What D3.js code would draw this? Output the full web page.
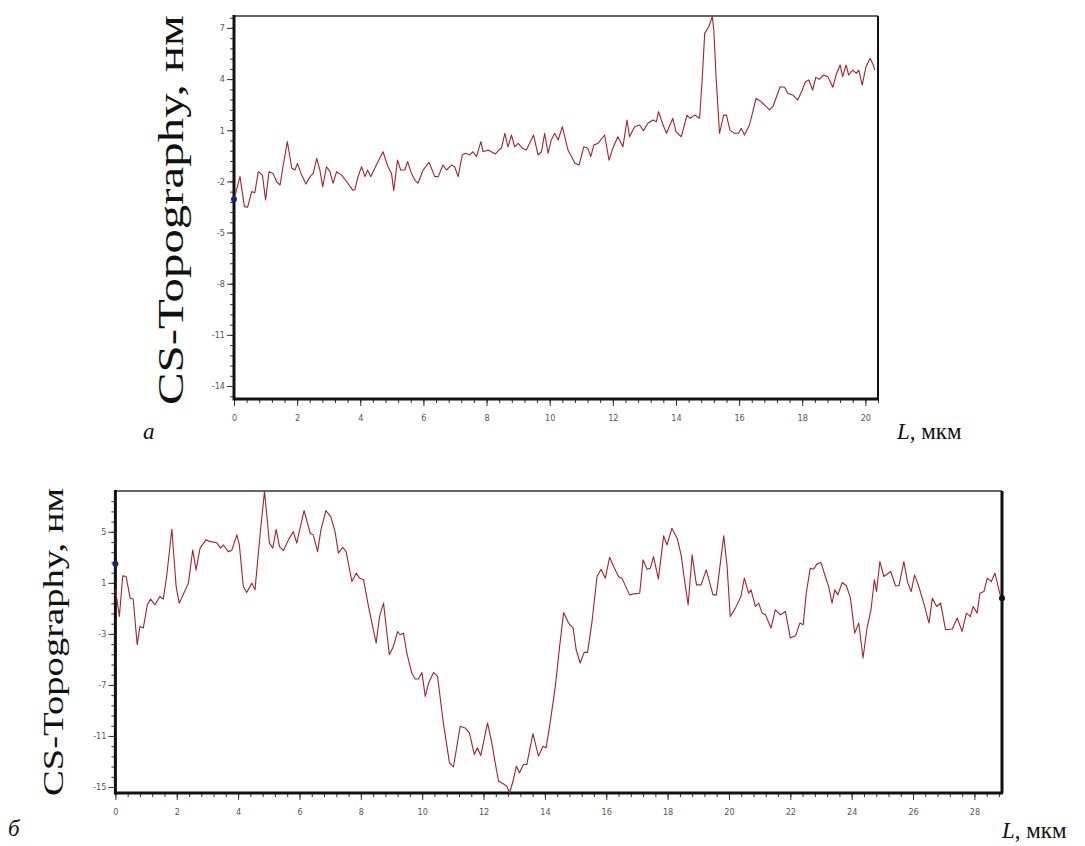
<!DOCTYPE html>
<html>
<head>
<meta charset="utf-8">
<script src="https://cdn.jsdelivr.net/npm/d3@7"></script>
<style>
  body { margin: 0; background: #fff; }
  svg { display: block; }
  .tick text { font-family: "DejaVu Sans Condensed", "DejaVu Sans", sans-serif; font-size: 9px; fill: #555; }
</style>
</head>
<body>
<div id="chart"></div>
<script>
// ---- panel a: profile along L (мкм), height (нм)
const lenA = [0,0.19,0.33,0.43,0.56,0.66,0.77,0.9,1.0,1.11,1.24,1.35,1.46,1.56,1.69,1.83,1.93,2.01,2.12,2.28,
  2.41,2.51,2.62,2.72,2.81,2.93,3.04,3.14,3.25,3.41,3.57,3.76,3.83,3.93,4.04,4.15,4.23,4.33,4.51,4.72,
  4.88,4.99,5.06,5.18,5.28,5.41,5.5,5.62,5.73,5.83,5.99,6.18,6.36,6.47,6.62,6.73,6.89,6.99,7.1,7.23,
  7.33,7.47,7.57,7.68,7.82,7.89,8.05,8.15,8.28,8.39,8.47,8.58,8.68,8.79,8.89,9.0,9.14,
  9.26,9.49,9.63,9.74,9.84,9.95,10.05,10.16,10.27,10.4,10.58,10.8,10.93,11.08,11.21,11.3,11.4,11.53,11.74,11.88,
  12.0,12.16,12.32,12.45,12.53,12.69,12.85,12.97,13.11,13.27,13.38,13.45,13.57,13.7,13.9,14.0,14.17,14.35,14.45,14.59,
  14.75,14.83,14.91,15.04,15.15,15.2,15.27,15.38,15.51,15.6,15.71,15.85,15.98,16.07,16.17,16.33,16.54,16.7,16.86,16.96,
  17.07,17.3,17.44,17.54,17.7,17.86,18.0,18.1,18.21,
  18.33,18.43,18.54,18.67,18.81,18.97,19.07,19.2,19.28,19.39,19.47,19.6,19.71,19.79,19.9,20.02,20.15,20.25,20.3];
const topoA = [-3.05,-1.72,-3.48,-3.52,-2.6,-2.66,-1.43,-1.63,-3.09,-1.43,-1.53,-2.02,-2.21,-1.04,0.33,-1.23,-1.33,-0.94,-1.53,-2.15,
  -1.72,-1.53,-0.65,-1.33,-2.31,-1.14,-1.43,-2.11,-1.43,-1.63,-2.02,-2.51,-2.47,-1.72,-1.14,-1.72,-1.33,-1.72,-1.04,-0.26,
  -1.14,-1.53,-2.55,-0.75,-1.33,-1.33,-0.84,-1.53,-1.92,-2.11,-1.33,-0.88,-1.72,-1.72,-1.04,-1.33,-1.04,-1.14,-1.72,-0.45,
  -0.35,-0.45,-0.26,-0.55,0.33,-0.26,-0.16,-0.26,-0.39,-0.16,-0.06,0.82,0.03,0.72,0.03,0.23,-0.06,
  -0.16,0.72,-0.45,-0.26,0.82,-0.35,0.43,0.82,0.43,1.21,-0.16,-0.94,-1.04,0.03,-0.06,-0.55,0.13,0.23,0.72,-0.75,
  -0.06,0.62,0.03,1.6,0.62,1.21,1.31,0.97,1.41,1.6,1.5,2.09,1.41,0.82,1.7,0.92,0.62,1.89,1.7,1.89,
  1.7,3.95,6.68,7.07,7.66,6.88,4.14,0.82,1.89,1.89,1.01,0.82,0.82,1.11,0.72,1.31,2.87,2.67,2.38,2.19,
  2.38,3.55,3.52,3.17,3.07,2.77,3.36,3.85,3.95,
  3.36,4.1,3.99,4.24,4.14,3.52,4.24,4.83,4.14,4.83,4.24,4.53,4.34,4.53,3.65,4.73,5.22,4.83,4.53];
const xTicksA = [0,2,4,6,8,10,12,14,16,18,20];
const yTicksA = [7,4,1,-2,-5,-8,-11,-14];
const markersA = [{L: 0, v: -3.05, color: "#1c1c8a"}];

// ---- panel б
const lenB = [0,0.13,0.24,0.35,0.48,0.58,0.71,0.8,0.91,1.04,1.15,1.29,1.45,1.56,1.67,1.84,1.98,2.08,2.38,2.52,
  2.63,2.76,2.95,3.11,3.3,3.43,3.52,3.68,3.79,3.96,4.04,4.17,4.28,4.45,4.55,4.72,4.86,4.93,5.02,5.13,
  5.24,5.35,5.48,5.64,5.8,5.91,6.15,6.35,6.45,6.59,6.7,6.86,7.02,7.16,7.27,7.41,7.52,7.71,7.85,7.96,
  8.09,8.25,8.5,8.61,8.74,8.93,9.06,9.2,9.28,9.39,9.5,9.66,9.77,9.88,9.99,10.1,10.21,
  10.37,10.5,10.69,10.89,11.02,11.13,11.24,11.4,11.54,11.7,11.8,11.91,12.13,12.27,12.38,12.49,12.63,12.76,12.85,12.96,
  13.07,13.17,13.3,13.41,13.61,13.79,13.94,14.04,14.17,14.34,14.48,14.61,14.77,14.92,15.02,15.15,15.28,15.39,15.53,15.7,
  15.83,15.97,16.11,16.24,16.4,16.51,16.76,16.91,17.09,17.2,17.33,17.44,17.54,17.7,17.87,17.98,18.14,18.31,18.44,18.55,
  18.67,18.8,18.94,19.09,19.26,19.48,19.59,19.83,19.94,20.04,20.21,20.39,20.5,
  20.64,20.72,20.86,20.97,21.08,21.19,21.37,21.51,21.68,21.84,22.0,22.17,22.31,22.42,22.52,22.65,22.76,22.87,23.0,23.14,
  23.25,23.36,23.45,23.55,23.69,23.83,23.96,24.1,24.23,24.37,24.5,24.63,24.74,24.81,24.92,25.05,25.27,25.43,25.54,25.7,
  25.83,25.94,26.05,26.19,26.35,26.52,26.63,26.77,26.9,27.06,27.28,27.44,27.6,27.74,27.87,27.96,28.09,28.18,28.31,28.42,
  28.55,28.67,28.8,28.87];
const topoB = [0.5,-1.63,1.55,1.5,-0.2,-0.27,-3.85,-2.42,-2.54,-0.72,-0.27,-0.72,-0.07,-0.27,1.5,5.2,0.71,-0.59,0.98,3.58,
  2.02,3.72,4.37,4.23,4.15,3.72,3.97,3.45,3.53,4.76,3.97,0.71,0.24,0.98,0.45,4.89,8.15,6.45,4.11,3.72,
  5.2,3.84,3.53,4.37,5.02,4.11,6.66,4.89,4.76,3.45,5.15,6.66,6.19,5.02,3.33,3.79,3.45,1.1,1.76,1.37,
  1.24,-0.85,-3.72,-1.64,-0.59,-4.63,-3.98,-2.81,-3.07,-2.94,-4.5,-6.07,-6.53,-6.53,-6.02,-7.9,-6.85,
  -6.02,-6.33,-9.98,-13.11,-13.42,-11.81,-10.24,-10.37,-10.76,-12.46,-11.93,-12.54,-9.98,-11.54,-13.11,-14.55,-14.73,-14.94,-15.45,-14.55,
  -13.37,-13.89,-13.24,-13.24,-10.81,-12.58,-11.81,-11.93,-9.98,-7.11,-3.98,-1.32,-2.15,-2.54,-4.24,-5.28,-4.45,-4.45,-2.15,1.5,
  2.07,1.37,3.01,2.28,1.5,1.37,0.06,0.14,0.19,2.8,2.07,2.15,3.06,1.29,4.68,3.97,5.28,4.5,3.19,1.24,
  -0.72,3.19,0.84,0.84,2.02,0.06,0.06,4.68,2.28,-1.64,-0.98,-0.07,1.37,
  0.19,0.45,-0.85,-0.59,-1.37,-1.5,-2.54,-1.11,-1.5,-1.24,-3.33,-3.15,-2.15,-2.28,0.19,2.15,2.07,2.49,2.59,1.5,
  0.71,-0.59,0.45,0.06,1.03,0.77,-0.2,-2.94,-2.15,-4.89,-2.54,-1.11,1.24,0.32,2.67,1.5,1.89,0.77,0.77,2.67,
  0.98,0.32,1.63,0.71,-0.59,-2.15,-0.2,-0.85,-0.59,-2.68,-2.62,-1.76,-2.81,-1.37,-1.64,-0.85,-1.37,0.19,0.32,1.37,
  1.1,1.76,0.45,-0.2];
const xTicksB = [0,2,4,6,8,10,12,14,16,18,20,22,24,26,28];
const yTicksB = [5,1,-3,-7,-11,-15];
const markersB = [{L: 0, v: 2.5, color: "#1c1c8a"}, {L: 28.9, v: -0.2, color: "#111"}];

const yTitle = "CS-Topography, нм";

const svg = d3.select("#chart").append("svg")
  .attr("width", 1085)
  .attr("height", 846);

// plain hyphen for negatives, like the original software
const plain = d => String(d);

// draws one profile panel
function drawPanel(o) {
  const x = d3.scaleLinear().domain(o.xDomain).range([o.left, o.right]);
  const y = d3.scaleLinear().domain(o.yDomain).range([o.bottom, o.top]);
  const g = svg.append("g");

  // minor ticks
  const xMinor = d3.range(0, o.xDomain[1] + 1e-6, 0.4);
  const yMinor = d3.range(o.yTicks[o.yTicks.length - 1], o.yDomain[1], o.yMinorStep)
    .filter(v => v >= o.yDomain[0]);
  const yMinorLow = d3.range(o.yTicks[o.yTicks.length - 1], o.yDomain[0], -o.yMinorStep);

  g.append("g")
    .attr("transform", `translate(0,${o.bottom})`)
    .call(d3.axisBottom(x).tickValues(xMinor).tickSize(4).tickFormat(""))
    .call(a => a.select(".domain").remove())
    .selectAll("line").attr("stroke", "#333");

  g.append("g")
    .attr("transform", `translate(${o.left},0)`)
    .call(d3.axisLeft(y).tickValues(yMinor.concat(yMinorLow)).tickSize(4).tickFormat(""))
    .call(a => a.select(".domain").remove())
    .selectAll("line").attr("stroke", "#333");

  // major ticks with labels
  g.append("g")
    .attr("transform", `translate(0,${o.bottom})`)
    .call(d3.axisBottom(x).tickValues(o.xTicks).tickSize(7).tickPadding(9).tickFormat(plain))
    .call(a => a.select(".domain").remove())
    .selectAll("line").attr("stroke", "#333");

  g.append("g")
    .attr("transform", `translate(${o.left},0)`)
    .call(d3.axisLeft(y).tickValues(o.yTicks).tickSize(7).tickPadding(2).tickFormat(plain))
    .call(a => a.select(".domain").remove())
    .selectAll("line").attr("stroke", "#333");

  // frame: thin top, heavier left/bottom/right
  g.append("line").attr("x1", o.left).attr("x2", o.right).attr("y1", o.top).attr("y2", o.top)
    .attr("stroke", "#333").attr("stroke-width", 1.5);
  g.append("line").attr("x1", o.right).attr("x2", o.right).attr("y1", o.top).attr("y2", o.bottom)
    .attr("stroke", "#111").attr("stroke-width", o.rightWidth);
  g.append("line").attr("x1", o.left).attr("x2", o.left).attr("y1", o.top - 1).attr("y2", o.bottom + 1.5)
    .attr("stroke", "#111").attr("stroke-width", 3);
  g.append("line").attr("x1", o.left).attr("x2", o.right + 1).attr("y1", o.bottom).attr("y2", o.bottom)
    .attr("stroke", "#111").attr("stroke-width", 3);

  // profile
  const pts = o.len.map((d, i) => [d, o.topo[i]]);
  g.append("path")
    .datum(pts)
    .attr("fill", "none")
    .attr("stroke", "#a3242a")
    .attr("stroke-width", 1.1)
    .attr("stroke-linejoin", "round")
    .attr("d", d3.line().x(d => x(d[0])).y(d => y(d[1])));

  g.selectAll("circle.marker")
    .data(o.markers)
    .enter()
    .append("circle")
    .attr("class", "marker")
    .attr("cx", d => x(d.L))
    .attr("cy", d => y(d.v))
    .attr("r", 3)
    .attr("fill", d => d.color);

  // axis title
  svg.append("text")
    .attr("transform", `translate(${o.titleX},${o.titleY}) rotate(-90)`)
    .attr("text-anchor", "middle")
    .attr("textLength", o.titleLen)
    .attr("lengthAdjust", "spacingAndGlyphs")
    .style("font-family", "'Liberation Serif', 'Times New Roman', serif")
    .style("font-size", o.titleSize + "px")
    .style("fill", "#111")
    .text(yTitle);
}

drawPanel({
  len: lenA, topo: topoA, markers: markersA,
  xDomain: [0, 20.4], yDomain: [-14.76, 7.7],
  xTicks: xTicksA, yTicks: yTicksA, yMinorStep: 0.6,
  left: 234, right: 878, top: 16, bottom: 399, rightWidth: 2,
  titleX: 183, titleY: 210, titleLen: 390, titleSize: 35
});

drawPanel({
  len: lenB, topo: topoB, markers: markersB,
  xDomain: [0, 28.9], yDomain: [-15.47, 8.2],
  xTicks: xTicksB, yTicks: yTicksB, yMinorStep: 0.8,
  left: 115.4, right: 1002, top: 491, bottom: 793, rightWidth: 3,
  titleX: 63, titleY: 642, titleLen: 308, titleSize: 29
});

// panel letters and x-axis captions
const serif = "'Liberation Serif', 'Times New Roman', serif";
function caption(xp, yp, parts) {
  const t = svg.append("text")
    .attr("x", xp).attr("y", yp)
    .style("font-family", serif)
    .style("font-size", "23px")
    .style("fill", "#111");
  parts.forEach(p => t.append("tspan").style("font-style", p[1] ? "italic" : "normal").text(p[0]));
}
caption(143, 439, [["a", true]]);
caption(897, 439, [["L", true], [", мкм", false]]);
caption(8, 836, [["б", true]]);
caption(1002, 838, [["L", true], [", мкм", false]]);
</script>
</body>
</html>
